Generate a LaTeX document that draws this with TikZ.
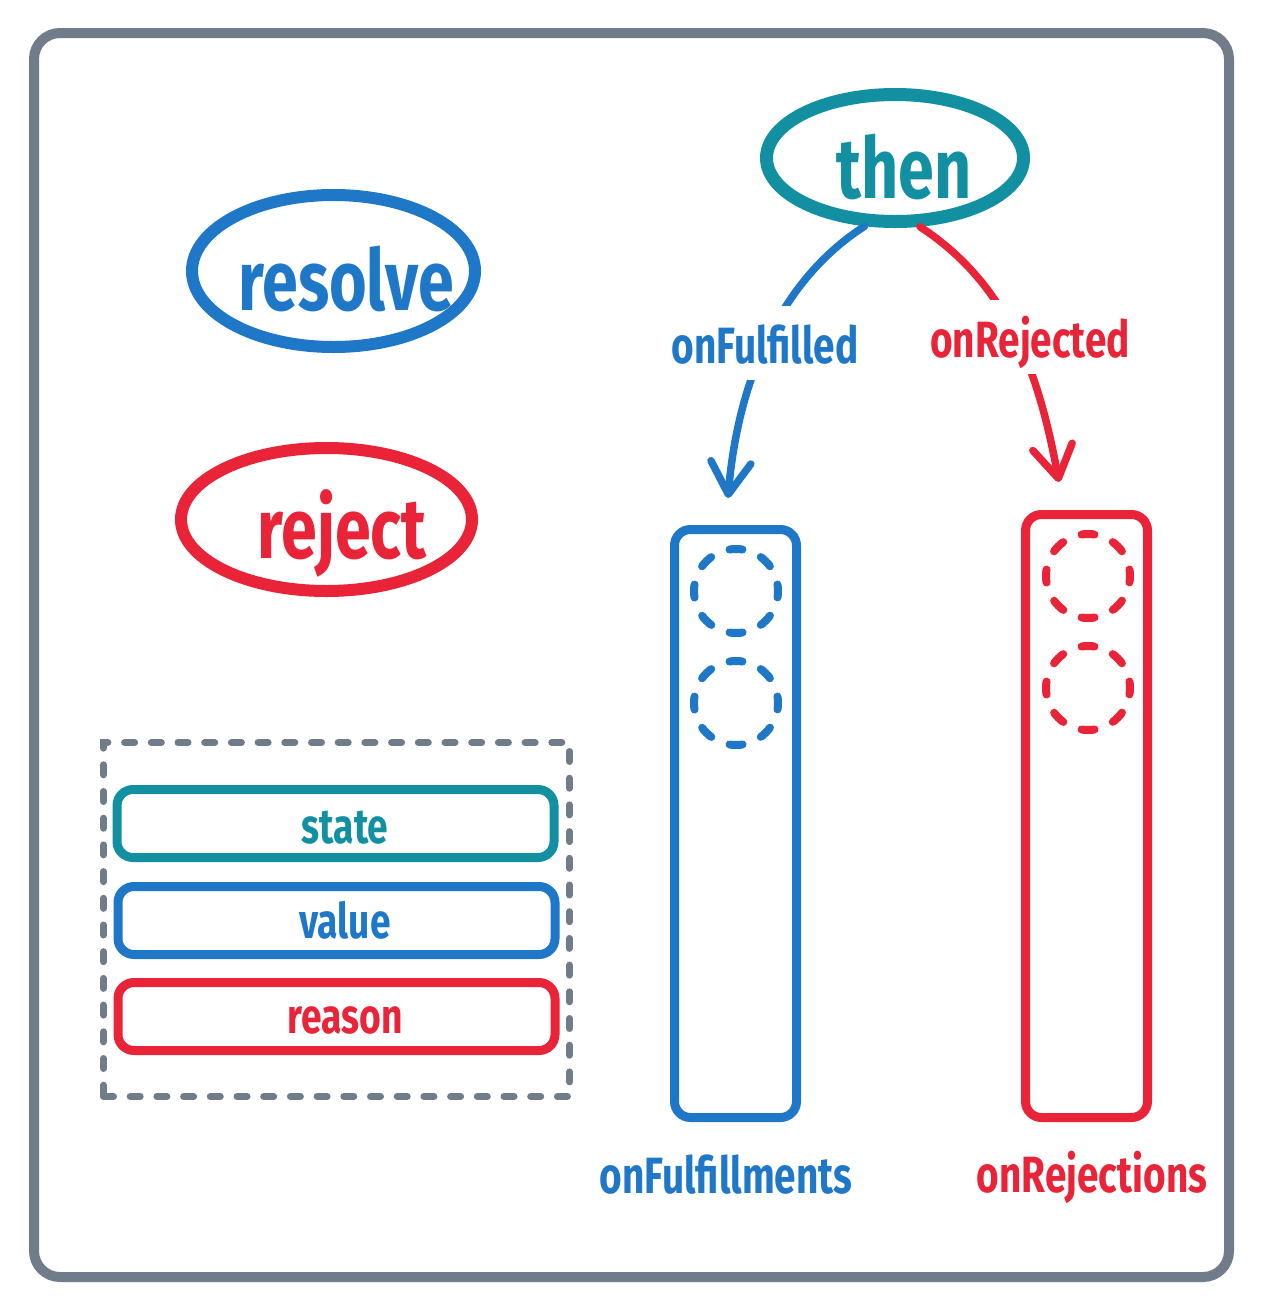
\documentclass[tikz,border=0pt]{standalone}
\usepackage{fontspec}
\newfontfamily\hand[FakeStretch=0.76]{Fira Sans}
\usetikzlibrary{shapes.geometric,arrows.meta}
\definecolor{cteal}{RGB}{18,144,161}
\definecolor{cblue}{RGB}{31,119,200}
\definecolor{cred}{RGB}{233,36,56}
\definecolor{cgray}{RGB}{113,124,139}
\begin{document}
\begin{tikzpicture}[x=1pt,y=-1pt,
  bigtxt/.style={font=\hand\bfseries\fontsize{85}{90}\selectfont, inner sep=0pt, anchor=base},
  midtxt/.style={font=\hand\bfseries\fontsize{51}{56}\selectfont, inner sep=0pt, anchor=base},
  boxtxt/.style={font=\hand\bfseries\fontsize{49}{54}\selectfont, inner sep=0pt, anchor=base},
  oval/.style={ellipse, draw, line width=12pt, inner sep=0pt},
  colbox/.style={draw, line width=9pt, rounded corners=16pt, inner sep=0pt, minimum width=122pt},
  fieldbox/.style={draw, line width=9pt, rounded corners=16pt, inner sep=0pt, minimum width=437pt, minimum height=68pt},
  dcirc/.style={circle, draw, line width=8pt, line cap=round, inner sep=0pt, minimum size=84pt,
    dash pattern=on 13pt off 19.99pt, dash phase=6.5pt},
  conn/.style={line width=7.5pt, line cap=round, -{Straight Barb[length=32pt,width=40pt,round]}},
  masklab/.style={midtxt, fill=white, inner xsep=4pt, inner ysep=17pt, text height=40pt, text depth=0pt}
]
\useasboundingbox (0,0) rectangle (1264,1312);
% outer frame
\draw[cgray, line width=10pt, rounded corners=26pt] (34,33) rectangle (1229,1277);

% resolve / reject
\node[oval, draw=cblue, minimum width=283pt, minimum height=152pt] (resolve) at (333.5,271) {};
\node[bigtxt, text=cblue] (resolveT) at (346,310) {resolve};
\node[oval, draw=cred, minimum width=291pt, minimum height=143pt] (reject) at (326.5,519.5) {};
\node[bigtxt, text=cred] (rejectT) at (342,558) {reject};

% then
\node[oval, draw=cteal, line width=13pt, minimum width=257pt, minimum height=127pt] (then) at (895,158) {};
\node[bigtxt, text=cteal] (thenT) at (904,198) {then};

% columns
\node[colbox, draw=cblue, minimum height=588pt] (fulf) at (735.5,823.5) {};
\node[colbox, draw=cred, minimum height=603pt] (rejs) at (1086.5,816) {};
\node[dcirc, draw=cblue] (f1) at (736,591) {};
\node[dcirc, draw=cblue] (f2) at (736,703) {};
\node[dcirc, draw=cred] (r1) at (1088,576) {};
\node[dcirc, draw=cred] (r2) at (1088,688) {};
\node[midtxt, text=cblue] (fulfT) at (726,1193) {onFulfillments};
\node[midtxt, text=cred] (rejsT) at (1092,1192) {onRejections};

% connectors
\coordinate (ftip) at (728,498);
\coordinate (rtip) at (1059,482);
\draw[conn, cblue] (then.246) .. controls (776,283) and (737,388) .. (ftip);
\draw[conn, cred] (then.290) .. controls (1009,285) and (1039,374) .. (rtip);
\node[masklab, text=cblue] (onf) at (765,363) {onFulfilled};
\node[masklab, text=cred] (onr) at (1030,357) {onRejected};

% state store
\node[draw=cgray, line width=7pt, line cap=round, dash pattern=on 10pt off 16.7pt, inner sep=0pt,
  minimum width=466pt, minimum height=354pt] (store) at (336.5,919.5) {};
\node[fieldbox, draw=cteal] (state) at (335.5,823.5) {};
\node[boxtxt, text=cteal] (stateT) at (345,843) {state};
\node[fieldbox, draw=cblue] (value) at (336.5,920.5) {};
\node[boxtxt, text=cblue] (valueT) at (345,938) {value};
\node[fieldbox, draw=cred] (reason) at (336.5,1016.5) {};
\node[boxtxt, text=cred] (reasonT) at (345,1033) {reason};
\end{tikzpicture}
\end{document}
